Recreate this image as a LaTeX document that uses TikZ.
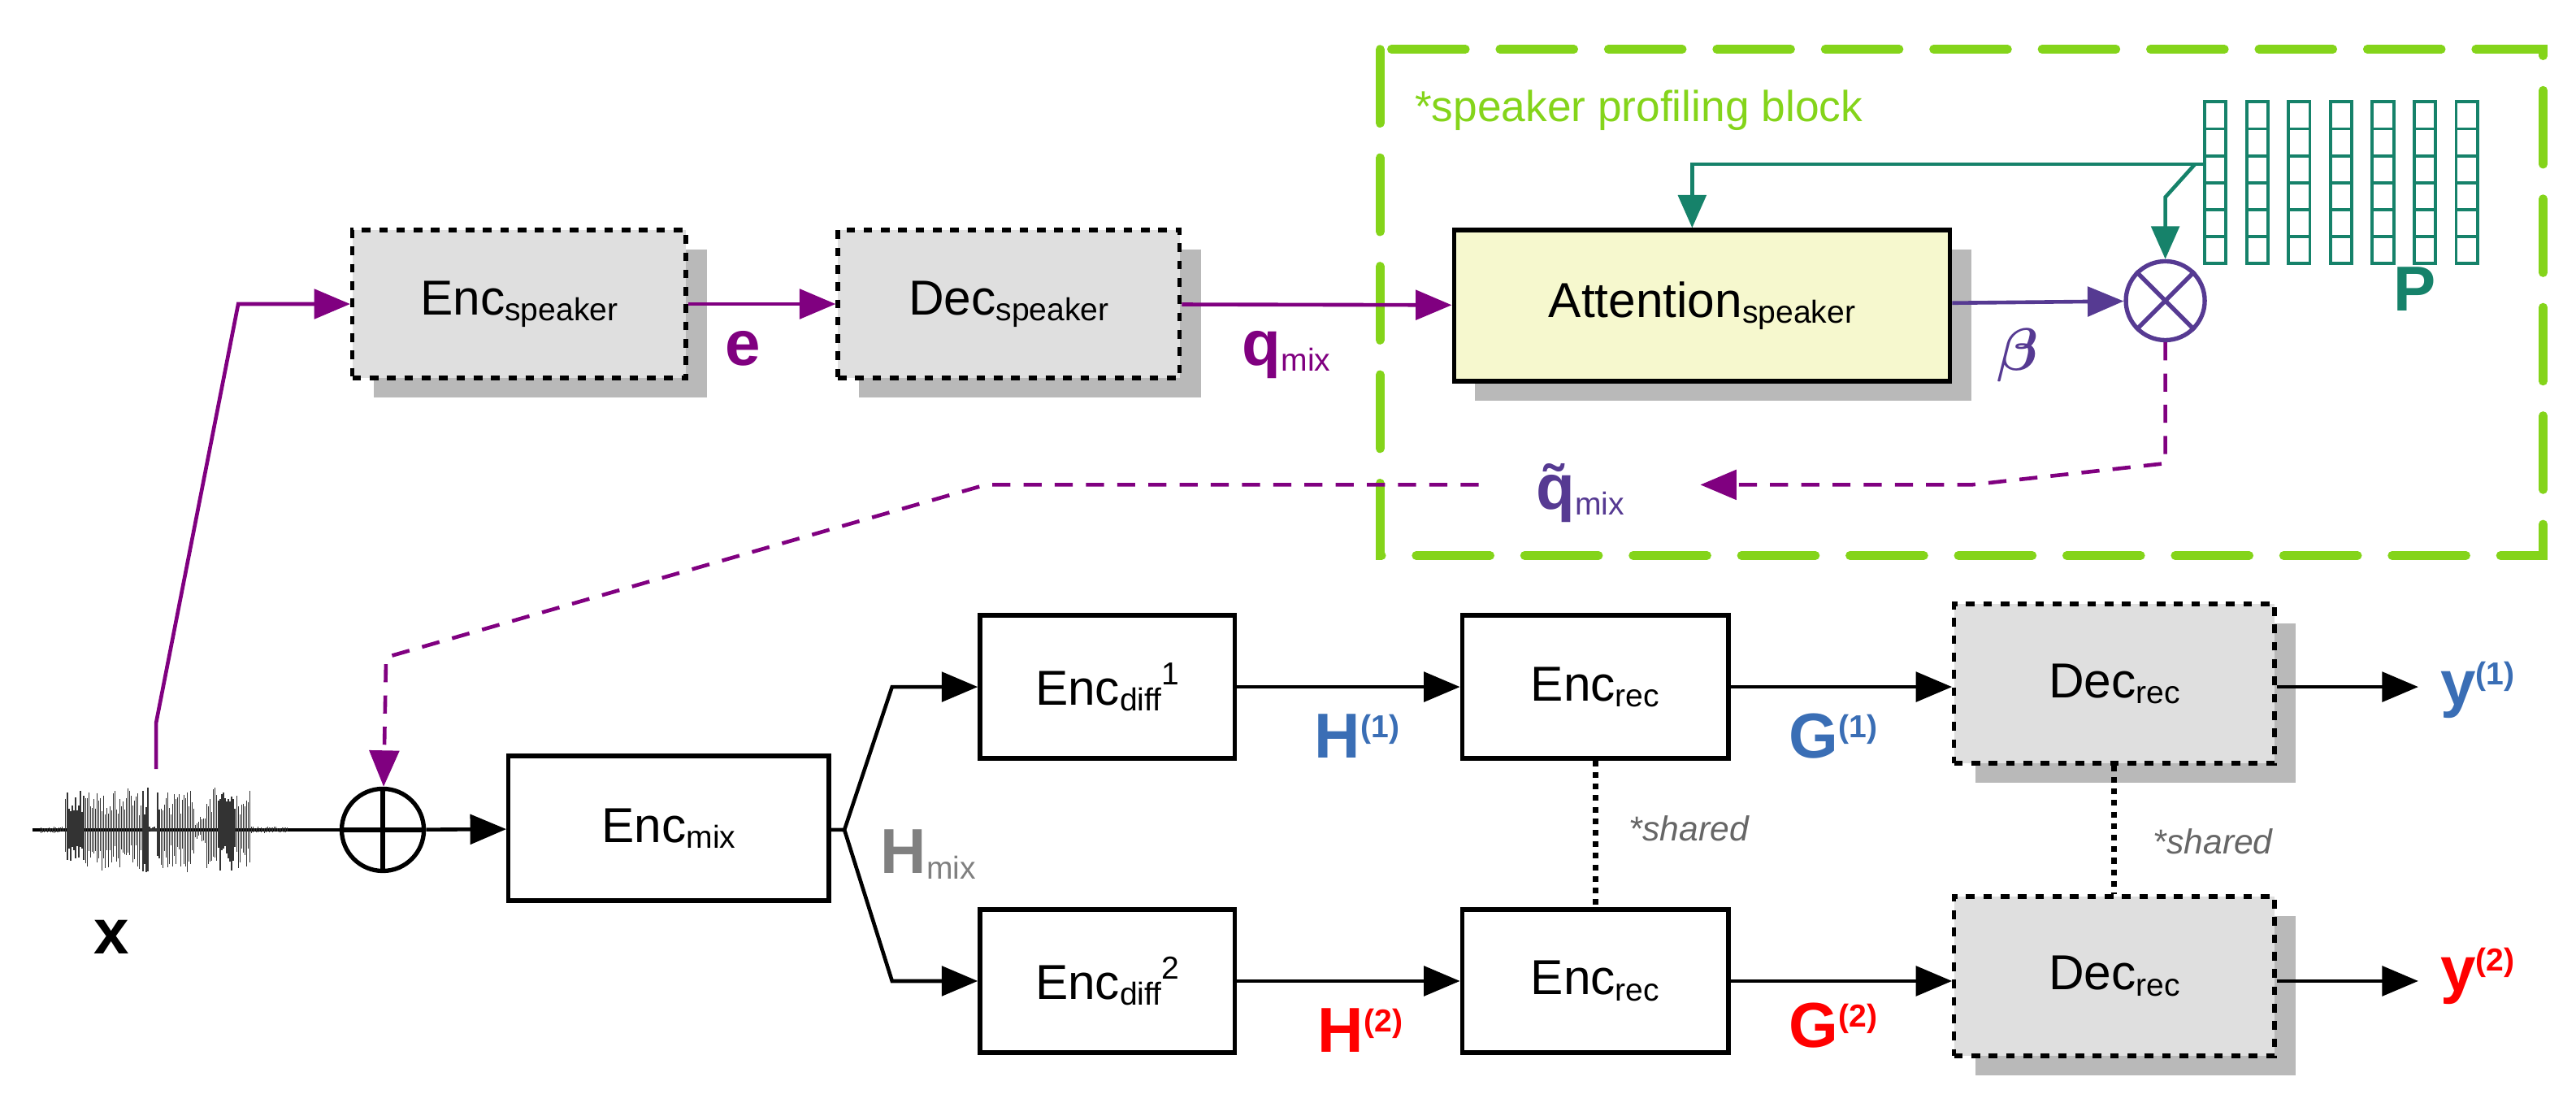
\documentclass[tikz,border=0pt]{standalone}
\usepackage{amsmath}
\usepackage{amssymb}
\usepackage{bm}
\usepackage{fontspec}
\setmainfont{Liberation Sans}
\usepackage{tikz}
\usetikzlibrary{arrows.meta, positioning, shadows, calc}

\definecolor{mag}{HTML}{800080}
\definecolor{vio}{HTML}{563A92}
\definecolor{teal2}{HTML}{16826A}
\definecolor{lime}{HTML}{84D41A}
\definecolor{blu}{HTML}{3A6EB5}
\definecolor{attfill}{HTML}{F6F8CE}

\tikzset{
  blk/.style={draw, line width=1.5pt, align=center, font=\fontsize{17}{20}\selectfont},
  gblk/.style={blk, dashed, fill=gray!25, drop shadow={shadow xshift=2.6mm,
      shadow yshift=-2.4mm, fill=gray!55, opacity=1}},
  arr/.style={line width=1.3pt, -{Triangle[length=4.4mm, width=3.6mm]}},
  lbl/.style={font=\bfseries\fontsize{22}{24}\selectfont},
  shr/.style={font=\itshape\fontsize{12}{14}\selectfont, text=gray!80!black},
}
\newcommand{\sbs}[1]{{\fontsize{11}{12}\selectfont\raisebox{-.35ex}{#1}}}
\newcommand{\spr}[1]{{\fontsize{11}{12}\selectfont\raisebox{1.2ex}{#1}}}

\begin{document}
\begin{tikzpicture}[x=0.2mm, y=-0.2mm]
  \useasboundingbox (0,0) rectangle (1568,679);

  % speaker profiling block
  \draw [lime, line width=3pt, dash pattern=on 9mm off 4.2mm, line cap=round]
  (840,30) rectangle (1548,338);%
  \node [anchor=west, text=lime, font=\fontsize{15}{18}\selectfont] (spb)
  at (855,67) {*speaker profiling block};%

  % upper row
  \node [gblk, minimum width=40.6mm, minimum height=18mm] (encs) at (316,185)
  {Enc\sbs{speaker}};%
  \node [gblk, minimum width=41.6mm, minimum height=18mm] (decs) at (614,185)
  {Dec\sbs{speaker}};%
  \node [blk, fill=attfill, minimum width=60.4mm, minimum height=18.4mm,
  drop shadow={shadow xshift=2.6mm, shadow yshift=-2.4mm, fill=gray!55, opacity=1}]
  (att) at (1036,186) {Attention\sbs{speaker}};%
  \node [draw=vio, circle, line width=1.5pt, minimum size=9.6mm, inner sep=0pt]
  (mul) at (1318,183) {};%
  \draw [vio, line width=1.5pt] (mul.north west) -- (mul.south east)
  (mul.north east) -- (mul.south west);%

  % speaker profiles
  \foreach \i in {0,...,6} {%
    \foreach \j in {0,...,5} {%
      \draw [teal2, line width=1.1pt] ({1342+\i*25.5},{62+\j*16.4})
      rectangle ++(13,16.4);%
    }%
  }%
  \coordinate (pl) at (1342,100);%
  \node [lbl, text=teal2] (p) at (1470,176) {P};%

  \draw [teal2, line width=1.3pt, -{Triangle[length=4mm, width=3.4mm]}]
  (pl) -- (1030,100) -- (att.north -| 1030,0);%
  \draw [teal2, line width=1.3pt, -{Triangle[length=4mm, width=3.4mm]}]
  (1336,100) -- (1318,120) -- (mul.north);%

  \node [lbl, text=mag] (e) at (452,212) {e};%
  \node [lbl, text=mag] (qm) at (783,216) {q\sbs{\mdseries mix}};%
  \node [lbl, text=vio] (beta) at (1228,216) {$\bm{\beta}$};%
  \node [lbl, text=vio] (qt) at (962,300) {\~{q}\sbs{\mdseries mix}};%

  \draw [arr, mag] (encs) -- (decs);%
  \draw [arr, mag] (decs) -- (att);%
  \draw [arr, vio] (att) -- (mul);%

  % lower row
  \coordinate (wav) at (178,505);%
  \node [draw, circle, line width=1.5pt, minimum size=10mm, inner sep=0pt]
  (add) at (233,505) {};%
  \draw [line width=1.5pt] (add.north) -- (add.south) (add.west) -- (add.east);%
  \node [lbl, text=black] (x) at (68,570) {x};%
  \node [blk, minimum width=39mm, minimum height=17.6mm] (encm) at (407,504)
  {Enc\sbs{mix}};%
  \node [blk, minimum width=31mm, minimum height=17.4mm] (dif1) at (674,418)
  {Enc\sbs{diff}\spr{1}};%
  \node [blk, minimum width=31mm, minimum height=17.4mm] (dif2) at (674,597)
  {Enc\sbs{diff}\spr{2}};%
  \node [blk, minimum width=32.4mm, minimum height=17.4mm] (rec1) at (971,418)
  {Enc\sbs{rec}};%
  \node [blk, minimum width=32.4mm, minimum height=17.4mm] (rec2) at (971,597)
  {Enc\sbs{rec}};%
  \node [gblk, minimum width=39mm, minimum height=19.4mm] (drec1) at (1287,416)
  {Dec\sbs{rec}};%
  \node [gblk, minimum width=39mm, minimum height=19.4mm] (drec2) at (1287,594)
  {Dec\sbs{rec}};%
  \coordinate (y1e) at (1472,418);%
  \coordinate (y2e) at (1472,597);%
  \node [lbl, text=blu] (y1) at (1508,420) {y\spr{(1)}};%
  \node [lbl, text=red] (y2) at (1508,594) {y\spr{(2)}};%

  % waveform
  \pgfmathsetseed{11}%
  \draw [line width=1pt] (20,505) -- (wav);%
  \foreach \k in {0,...,150} {%
    \pgfmathsetmacro{\xx}{25+\k}%
    \pgfmathsetmacro{\env}{(\xx<40 || (\xx>90 && \xx<96) || \xx>152) ? 2 :
      ((\xx>118 && \xx<126) ? 8 : 26)}%
    \pgfmathsetmacro{\aa}{\env*(0.35+0.65*rnd)}%
    \pgfmathsetmacro{\bb}{\env*(0.35+0.65*rnd)}%
    \draw [line width=0.35pt, black!80] (\xx,505-\aa) -- (\xx,505+\bb);%
  }%

  \draw [line width=1.3pt] (wav) -- (add);%
  \draw [arr] (add) -- (encm);%
  \draw [mag, line width=1.3pt, -{Triangle[length=4.4mm, width=3.6mm]}]
  (95,468) -- (95,440) -- (145,185) -- (encs);%
  \draw [mag, line width=1.3pt, dash pattern=on 2.2mm off 1.6mm,
  -{Triangle[length=4.4mm, width=3.6mm]}]
  (mul) -- (1318,282) -- (1200,295) -- (1035,295);%
  \draw [mag, line width=1.3pt, dash pattern=on 2.2mm off 1.6mm,
  -{Triangle[length=4.4mm, width=3.6mm]}]
  (900,295) -- (600,295) -- (235,400) -- (add);%

  \coordinate (sp) at (514,505);%
  \draw [line width=1.3pt] (encm) -- (sp);%
  \draw [arr] (sp) -- (543,418) -- (dif1);%
  \draw [arr] (sp) -- (543,597) -- (dif2);%
  \node [lbl, text=gray] (hm) at (565,520) {H\sbs{\mdseries mix}};%

  \draw [arr] (dif1) -- (rec1);%
  \draw [arr] (dif2) -- (rec2);%
  \draw [arr] (rec1) -- (drec1.west |- rec1);%
  \draw [arr] (rec2) -- (drec2.west |- rec2);%
  \draw [arr] (drec1.east |- y1e) -- (y1e);%
  \draw [arr] (drec2.east |- y2e) -- (y2e);%
  \node [lbl, text=blu] (h1) at (826,448) {H\spr{(1)}};%
  \node [lbl, text=red] (h2) at (828,627) {H\spr{(2)}};%
  \node [lbl, text=blu] (g1) at (1116,448) {G\spr{(1)}};%
  \node [lbl, text=red] (g2) at (1116,624) {G\spr{(2)}};%

  \draw [line width=2pt, dotted] (rec1) -- (rec2);%
  \draw [line width=2pt, dotted] (drec1) -- (drec2);%
  \node [shr] (s1) at (1028,504) {*shared};%
  \node [shr] (s2) at (1347,512) {*shared};%
\end{tikzpicture}
\end{document}
